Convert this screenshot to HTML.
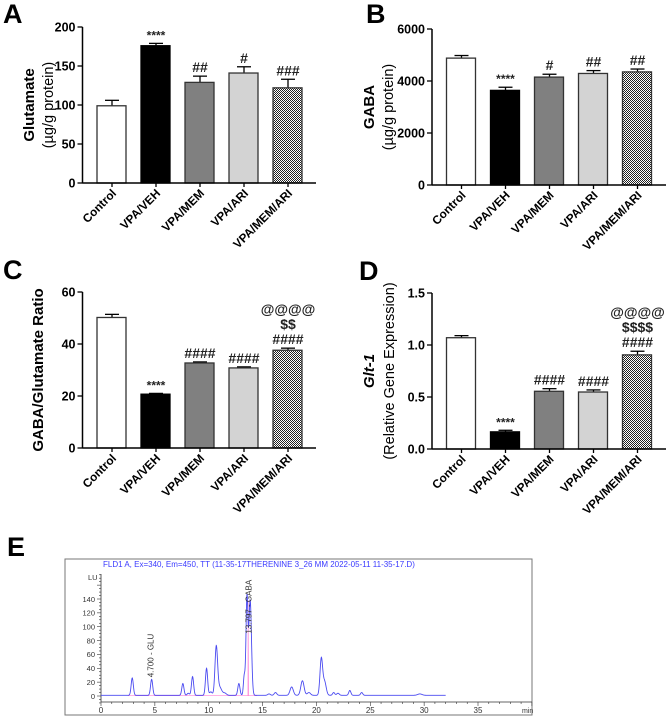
<!DOCTYPE html>
<html><head><meta charset="utf-8">
<style>
html,body{margin:0;padding:0;background:#fff;}
svg{display:block;font-family:"Liberation Sans",Arial,sans-serif;}
</style></head>
<body>
<svg id="fig" width="669" height="716" viewBox="0 0 669 716" xmlns="http://www.w3.org/2000/svg">
<defs>
<pattern id="checker" width="2" height="2" patternUnits="userSpaceOnUse">
<rect width="2" height="2" fill="#fff"/><rect width="1" height="1" fill="#222"/><rect x="1" y="1" width="1" height="1" fill="#222"/>
</pattern>
</defs>
<g font-weight="bold" font-size="27" fill="#000">
<text x="3" y="23">A</text>
<text x="366" y="23">B</text>
<text x="3" y="279">C</text>
<text x="359" y="280">D</text>
<text x="7" y="556">E</text>
</g>
<g id="panels"></g>
<g id="chrom"></g>
</svg>
<script>
const categories = ["Control","VPA/VEH","VPA/MEM","VPA/ARI","VPA/MEM/ARI"];
const fills = ["#ffffff","#000000","#808080","#d3d3d3","url(#checker)"];
const valuesA = [99, 176, 129, 141, 122];
const errorsA = [7, 3, 8, 8, 11];
const ticksA = [0, 50, 100, 150, 200];
const annotA = [[], ["****"], ["##"], ["#"], ["###"]];
const valuesB = [4880, 3640, 4150, 4290, 4350];
const errorsB = [100, 120, 110, 110, 110];
const ticksB = [0, 2000, 4000, 6000];
const annotB = [[], ["****"], ["#"], ["##"], ["##"]];
const valuesC = [50.2, 20.7, 32.7, 30.8, 37.6];
const errorsC = [1.2, 0.3, 0.4, 0.4, 0.8];
const ticksC = [0, 20, 40, 60];
const annotC = [[], ["****"], ["####"], ["####"], ["####", "$$", "@@@@"]];
const valuesD = [1.07, 0.165, 0.555, 0.548, 0.905];
const errorsD = [0.02, 0.015, 0.025, 0.02, 0.035];
const ticksD = [0, 0.5, 1.0, 1.5];
const tickLabelsD = ["0.0", "0.5", "1.0", "1.5"];
const annotD = [[], ["****"], ["####"], ["####"], ["####", "$$$$", "@@@@"]];

// chromatogram peaks: retention time (min), height (LU), width (min)
const peakTimes = [2.9, 4.7, 7.6, 8.1, 8.5, 9.8, 10.2, 10.7, 11.0, 11.5, 12.8, 13.3, 13.55, 13.85, 15.6, 16.2, 17.7, 18.7, 19.3, 20.45, 20.75, 21.6, 22.0, 23.1, 24.2, 29.6];
const peakHeights = [25, 23, 17, 3, 27, 39, 5, 68, 12, 3, 17, 28, 140, 137, 2, 4, 12, 21, 4, 52, 20, 4, 3, 7, 4, 2];
const peakWidths = [0.1, 0.1, 0.1, 0.1, 0.1, 0.1, 0.12, 0.12, 0.2, 0.15, 0.1, 0.08, 0.09, 0.12, 0.12, 0.12, 0.15, 0.15, 0.15, 0.12, 0.15, 0.1, 0.12, 0.1, 0.1, 0.2];
const chromXTicks = [0, 5, 10, 15, 20, 25, 30, 35];
const chromYTicks = [0, 20, 40, 60, 80, 100, 120, 140];

const NS = "http://www.w3.org/2000/svg";
function mk(tag, attrs, parent, txt){
  const e = document.createElementNS(NS, tag);
  for (const k in attrs) e.setAttribute(k, attrs[k]);
  if (txt !== undefined) e.textContent = txt;
  parent.appendChild(e);
  return e;
}
const root = document.getElementById("panels");

function panel(id, axisX, y0, yTop, max, values, errors, ticks, tickLabels, annots, axisEnd, ylab){
  const g = mk("g", {}, root);
  
  
  const ys = v => y0 - (v / max) * (y0 - yTop);
  values.forEach((v, i) => {
    const left = axisX + 14.5 + i * 44;
    const cx = left + 15;
    const top = ys(v), et = ys(v + errors[i]);
    const eb = mk("line", {x1: cx, x2: cx, y1: top, y2: et, stroke: "#000", "stroke-width": 1.3}, g);
    
    
    const cap = mk("line", {x1: cx - 7, x2: cx + 7, y1: et, y2: et, stroke: "#000", "stroke-width": 1.3}, g);
    
    
    const r = mk("rect", {x: left, y: top, width: 29, height: y0 - top, fill: fills[i], stroke: i === 1 ? "#000" : "#333", "stroke-width": 1.3}, g);
    
    
    annots[i].forEach((s, j) => {
      const t = mk("text", {x: cx, y: et - 4 - j * 15, "text-anchor": "middle", "font-size": s[0] === "*" ? 12 : 14, "font-weight": "bold", fill: "#222"}, g, s);
      
      
    });
    const tk = mk("line", {x1: cx, x2: cx, y1: y0, y2: y0 + 4, stroke: "#000", "stroke-width": 1.3}, g);
    
    
    const lx = cx + 5, ly = y0 + 11;
    const lt = mk("text", {x: lx, y: ly, "text-anchor": "end", "font-size": 11.8, "font-weight": "bold", transform: `rotate(-45 ${lx} ${ly})`}, g, categories[i]);
    
    
  });
  const ax = mk("line", {x1: axisX, x2: axisEnd, y1: y0, y2: y0, stroke: "#000", "stroke-width": 1.5}, g);
  
  
  const ay = mk("line", {x1: axisX, x2: axisX, y1: yTop, y2: y0, stroke: "#000", "stroke-width": 1.5}, g);
  
  
  ticks.forEach((t, i) => {
    const y = ys(t);
    const l = mk("line", {x1: axisX - 5, x2: axisX, y1: y, y2: y, stroke: "#000", "stroke-width": 1.3}, g);
    
    
    const tx = mk("text", {x: axisX - 7, y: y + 4.5, "text-anchor": "end", "font-size": 12.5, "font-weight": "bold"}, g, tickLabels[i]);
    
    
  });
  ylab.forEach(([x, txt, bold, italic], i) => {
    const cy = (y0 + yTop) / 2;
    const t = mk("text", {x: x, y: cy, "text-anchor": "middle", "font-size": bold ? 15 : 14.5, "font-weight": bold ? "bold" : "normal", "font-style": italic ? "italic" : "normal", transform: `rotate(-90 ${x} ${cy})`}, g, txt);
    
    
  });
}
panel("panel-a", 82.5, 183, 27, 200, valuesA, errorsA, ticksA, ticksA.map(String), annotA, 316, [[34, "Glutamate", true], [53, "(µg/g protein)", false]]);
panel("panel-b", 432, 185, 29, 6000, valuesB, errorsB, ticksB, ticksB.map(String), annotB, 666, [[374, "GABA", true], [393, "(µg/g protein)", false]]);
panel("panel-c", 82.5, 448, 292, 60, valuesC, errorsC, ticksC, ticksC.map(String), annotC, 316, [[43, "GABA/Glutamate Ratio", true]]);
panel("panel-d", 432, 449, 293, 1.5, valuesD, errorsD, ticksD, tickLabelsD, annotD, 666, [[374, "Glt-1", true, true], [394, "(Relative Gene Expression)", false]]);

const cg = document.getElementById("chrom");
const frame = mk("rect", {x: 65, y: 559, width: 467, height: 156, fill: "#fff", stroke: "#777", "stroke-width": 1}, cg);


const X0 = 101, X35 = 478, Y0 = 696, Y140 = 599;
const xs = t => X0 + t * (X35 - X0) / 35;
const yv = v => Y0 - v * (Y0 - Y140) / 140;
const title = mk("text", {x: 103, y: 567, "font-size": 8, fill: "#3a3aff"}, cg, "FLD1 A, Ex=340, Em=450, TT (11-35-17THERENINE 3_26 MM 2022-05-11 11-35-17.D)");


const lu = mk("text", {x: 88, y: 580, "font-size": 7.5, fill: "#333"}, cg, "LU");


const xa = mk("line", {x1: X0, x2: 532, y1: 702, y2: 702, stroke: "#333", "stroke-width": 0.8}, cg);


const ya = mk("line", {x1: X0, x2: X0, y1: 574, y2: 702, stroke: "#333", "stroke-width": 0.8}, cg);


for (let t = 0; t <= 40; t += 1) {
  const m = mk("line", {x1: xs(t), x2: xs(t), y1: 702, y2: t % 5 === 0 ? 706 : 704, stroke: "#333", "stroke-width": 0.6}, cg);
  
  
}
chromXTicks.forEach(t => {
  const l = mk("text", {x: xs(t), y: 713, "text-anchor": "middle", "font-size": 8, fill: "#333"}, cg, String(t));
  
  
});
const mn = mk("text", {x: 522, y: 713, "font-size": 7, fill: "#333"}, cg, "min");


for (let v = -10; v <= 180; v += 5) {
  if (yv(v) < 574) continue;
  const m = mk("line", {x1: X0 - (v % 20 === 0 ? 4 : 2), x2: X0, y1: yv(v), y2: yv(v), stroke: "#333", "stroke-width": 0.6}, cg);
  
  
}
chromYTicks.forEach(v => {
  const l = mk("text", {x: X0 - 6, y: yv(v) + 2.8, "text-anchor": "end", "font-size": 7.5, fill: "#333"}, cg, String(v));
  
  
});
const pk = mk("path", {d: `M${xs(2.5)},${yv(0.5)}L${xs(14.5)},${yv(0.5)}M${xs(13.64)},${yv(0.5)}L${xs(13.66)},${yv(138)}L${xs(13.7)},${yv(0.5)}`, stroke: "#ff66cc", "stroke-width": 0.6, "stroke-opacity": 0.8, fill: "none"}, cg);


let d = "";
for (let t = 0; t <= 32; t += 0.02) {
  let v = 1;
  peakTimes.forEach((pt, i) => { v += peakHeights[i] * Math.exp(-0.5 * ((t - pt) / peakWidths[i]) ** 2); });
  d += (d ? "L" : "M") + xs(t).toFixed(2) + "," + yv(v).toFixed(2);
}
const tr = mk("path", {d: d, stroke: "#4a4af0", "stroke-width": 0.9, fill: "none"}, cg);


const g1x = xs(4.7) + 2, g1y = yv(27);
const glu = mk("text", {x: g1x, y: g1y, "font-size": 8, fill: "#333", transform: `rotate(-90 ${g1x} ${g1y})`}, cg, "4.700 - GLU");


const g2x = xs(13.8) + 2, g2y = yv(90);
const gaba = mk("text", {x: g2x, y: g2y, "font-size": 8, fill: "#333", transform: `rotate(-90 ${g2x} ${g2y})`}, cg, "13.797 - GABA");


</script>
</body></html>
